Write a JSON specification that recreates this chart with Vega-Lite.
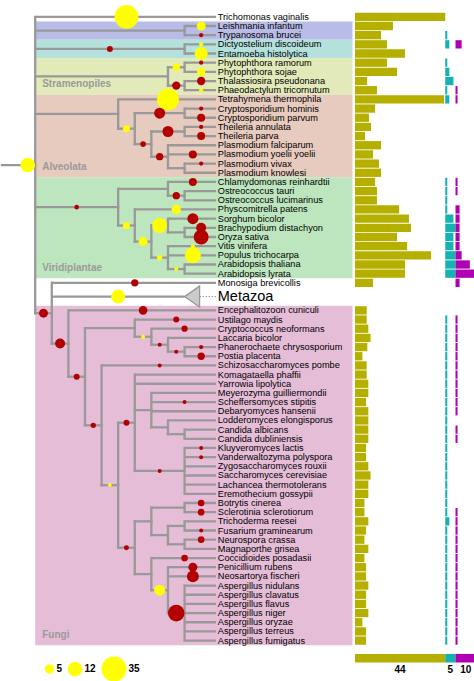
{
  "$schema": "https://vega.github.io/schema/vega-lite/v6.json",
  "width": 474,
  "height": 681,
  "padding": 0,
  "autosize": {"type": "fit", "contains": "padding"},
  "background": "white",
  "config": {"view": {"stroke": null}, "font": "Liberation Sans", "legend": {"symbolBaseFillColor": "#ffff00", "symbolBaseStrokeColor": "#ffff00"}},
  "datasets": {
    "bands": [
      {"clade": "Kinetoplastida", "lo": 0.5, "hi": 2.5},
      {"clade": "Amoebozoa", "lo": 2.5, "hi": 4.5},
      {"clade": "Stramenopiles", "lo": 4.5, "hi": 8.5},
      {"clade": "Alveolata", "lo": 8.5, "hi": 17.5},
      {"clade": "Viridiplantae", "lo": 17.5, "hi": 28.5},
      {"clade": "Fungi", "lo": 31.5, "hi": 68.5}
    ],
    "clades": [
      {"n": "root", "d": 2, "pd": 0, "r": 16.16, "lo": 0, "hi": 32.31},
      {"n": "Kin", "d": 11, "pd": 2, "r": 1.5, "lo": 1, "hi": 2},
      {"n": "Amo", "d": 11, "pd": 2, "r": 3.5, "lo": 3, "hi": 4},
      {"n": "Str", "d": 10, "pd": 2, "r": 6.5, "lo": 5.5, "hi": 7.5},
      {"n": "Phy", "d": 11, "pd": 10, "r": 5.5, "lo": 5, "hi": 6},
      {"n": "Dia", "d": 11, "pd": 10, "r": 7.5, "lo": 7, "hi": 8},
      {"n": "Alv", "d": 7, "pd": 2, "r": 10.59, "lo": 9, "hi": 12.19},
      {"n": "Api", "d": 8, "pd": 7, "r": 12.19, "lo": 10.5, "hi": 13.875},
      {"n": "Cry", "d": 11, "pd": 8, "r": 10.5, "lo": 10, "hi": 11},
      {"n": "Aco", "d": 9, "pd": 8, "r": 13.875, "lo": 12.5, "hi": 15.25},
      {"n": "The", "d": 11, "pd": 9, "r": 12.5, "lo": 12, "hi": 13},
      {"n": "Pla", "d": 10, "pd": 9, "r": 15.25, "lo": 14, "hi": 16.5},
      {"n": "PvPk", "d": 11, "pd": 10, "r": 16.5, "lo": 16, "hi": 17},
      {"n": "Vir", "d": 7, "pd": 2, "r": 20.75, "lo": 18.75, "hi": 22.75},
      {"n": "Chl", "d": 10, "pd": 7, "r": 18.75, "lo": 18, "hi": 19.5},
      {"n": "Ost", "d": 11, "pd": 10, "r": 19.5, "lo": 19, "hi": 20},
      {"n": "Emb", "d": 8, "pd": 7, "r": 22.75, "lo": 21, "hi": 24.5},
      {"n": "Spe", "d": 9, "pd": 8, "r": 24.5, "lo": 22.75, "hi": 26.25},
      {"n": "Poa", "d": 10, "pd": 9, "r": 22.75, "lo": 22, "hi": 23.5},
      {"n": "BO", "d": 11, "pd": 10, "r": 23.5, "lo": 23, "hi": 24},
      {"n": "Eud", "d": 10, "pd": 9, "r": 26.25, "lo": 25, "hi": 27.5},
      {"n": "Ara", "d": 11, "pd": 10, "r": 27.5, "lo": 27, "hi": 28},
      {"n": "Opi", "d": 3, "pd": 2, "r": 32.31, "lo": 29, "hi": 35.62},
      {"n": "Fun", "d": 4, "pd": 3, "r": 35.62, "lo": 32, "hi": 39.23},
      {"n": "Dik", "d": 5, "pd": 4, "r": 39.23, "lo": 33.94, "hi": 44.53},
      {"n": "Bas", "d": 8, "pd": 5, "r": 33.94, "lo": 33, "hi": 34.875},
      {"n": "Aga", "d": 9, "pd": 8, "r": 34.875, "lo": 34, "hi": 35.75},
      {"n": "Ag2", "d": 10, "pd": 9, "r": 35.75, "lo": 35, "hi": 36.5},
      {"n": "Pol", "d": 11, "pd": 10, "r": 36.5, "lo": 36, "hi": 37},
      {"n": "Asc", "d": 6, "pd": 5, "r": 44.53, "lo": 38, "hi": 51.06},
      {"n": "AsB", "d": 7, "pd": 6, "r": 51.06, "lo": 44.25, "hi": 57.875},
      {"n": "Sac", "d": 8, "pd": 7, "r": 44.25, "lo": 39, "hi": 49.5},
      {"n": "CTG", "d": 9, "pd": 8, "r": 42.875, "lo": 41, "hi": 44.75},
      {"n": "Lod", "d": 10, "pd": 9, "r": 44.75, "lo": 44, "hi": 45.5},
      {"n": "Can", "d": 11, "pd": 10, "r": 45.5, "lo": 45, "hi": 46},
      {"n": "Sce", "d": 11, "pd": 8, "r": 49.5, "lo": 47, "hi": 52},
      {"n": "Pez", "d": 8, "pd": 7, "r": 57.875, "lo": 55, "hi": 60.75},
      {"n": "Leo", "d": 9, "pd": 8, "r": 55, "lo": 53.5, "hi": 56.5},
      {"n": "BS", "d": 11, "pd": 9, "r": 53.5, "lo": 53, "hi": 54},
      {"n": "Sor", "d": 10, "pd": 9, "r": 56.5, "lo": 55.5, "hi": 57.5},
      {"n": "TF", "d": 11, "pd": 10, "r": 55.5, "lo": 55, "hi": 56},
      {"n": "NM", "d": 11, "pd": 10, "r": 57.5, "lo": 57, "hi": 58},
      {"n": "Eur", "d": 9, "pd": 8, "r": 60.75, "lo": 59, "hi": 62.5},
      {"n": "Eu2", "d": 10, "pd": 9, "r": 62.5, "lo": 60, "hi": 65},
      {"n": "Asp", "d": 11, "pd": 10, "r": 65, "lo": 62, "hi": 68}
    ],
    "taxa": [
      {"n": "Trichomonas vaginalis", "r": 0, "pd": 2, "d": 12.9, "b1": 44, "b2": 0, "b3": 0},
      {"n": "Leishmania infantum", "r": 1, "pd": 11, "d": 12.9, "b1": 18.5, "b2": 0, "b3": 0},
      {"n": "Trypanosoma brucei", "r": 2, "pd": 11, "d": 12.9, "b1": 12.7, "b2": 1, "b3": 0},
      {"n": "Dictyostelium discoideum", "r": 3, "pd": 11, "d": 12.9, "b1": 15.6, "b2": 2, "b3": 3},
      {"n": "Entamoeba histolytica", "r": 4, "pd": 11, "d": 12.9, "b1": 24.4, "b2": 0, "b3": 0},
      {"n": "Phytophthora ramorum", "r": 5, "pd": 11, "d": 12.9, "b1": 15.6, "b2": 1, "b3": 0},
      {"n": "Phytophthora sojae", "r": 6, "pd": 11, "d": 12.9, "b1": 20.5, "b2": 2, "b3": 0},
      {"n": "Thalassiosira pseudonana", "r": 7, "pd": 11, "d": 12.9, "b1": 5.9, "b2": 4, "b3": 0},
      {"n": "Phaeodactylum tricornutum", "r": 8, "pd": 11, "d": 12.9, "b1": 10.7, "b2": 1, "b3": 1},
      {"n": "Tetrahymena thermophila", "r": 9, "pd": 7, "d": 12.9, "b1": 43.4, "b2": 2, "b3": 1},
      {"n": "Cryptosporidium hominis", "r": 10, "pd": 11, "d": 12.9, "b1": 9.8, "b2": 0, "b3": 0},
      {"n": "Cryptosporidium parvum", "r": 11, "pd": 11, "d": 12.9, "b1": 6.8, "b2": 0, "b3": 0},
      {"n": "Theileria annulata", "r": 12, "pd": 11, "d": 12.9, "b1": 7.8, "b2": 0, "b3": 0},
      {"n": "Theileria parva", "r": 13, "pd": 11, "d": 12.9, "b1": 4.9, "b2": 0, "b3": 0},
      {"n": "Plasmodium falciparum", "r": 14, "pd": 10, "d": 12.9, "b1": 12.7, "b2": 0, "b3": 0},
      {"n": "Plasmodium yoelii yoelii", "r": 15, "pd": 10, "d": 12.9, "b1": 8.8, "b2": 0, "b3": 0},
      {"n": "Plasmodium vivax", "r": 16, "pd": 11, "d": 12.9, "b1": 11.7, "b2": 0, "b3": 0},
      {"n": "Plasmodium knowlesi", "r": 17, "pd": 11, "d": 12.9, "b1": 12.7, "b2": 0, "b3": 0},
      {"n": "Chlamydomonas reinhardtii", "r": 18, "pd": 10, "d": 12.9, "b1": 9.8, "b2": 1, "b3": 1},
      {"n": "Ostreococcus tauri", "r": 19, "pd": 11, "d": 12.9, "b1": 10.7, "b2": 1, "b3": 1},
      {"n": "Ostreococcus lucimarinus", "r": 20, "pd": 11, "d": 12.9, "b1": 10.7, "b2": 1, "b3": 0},
      {"n": "Physcomitrella patens", "r": 21, "pd": 8, "d": 12.9, "b1": 21.5, "b2": 1, "b3": 2},
      {"n": "Sorghum bicolor", "r": 22, "pd": 10, "d": 12.9, "b1": 26.3, "b2": 4, "b3": 2},
      {"n": "Brachypodium distachyon", "r": 23, "pd": 11, "d": 12.9, "b1": 27.3, "b2": 5, "b3": 2},
      {"n": "Oryza sativa", "r": 24, "pd": 11, "d": 12.9, "b1": 20.5, "b2": 4, "b3": 2},
      {"n": "Vitis vinifera", "r": 25, "pd": 10, "d": 12.9, "b1": 25.4, "b2": 4, "b3": 2},
      {"n": "Populus trichocarpa", "r": 26, "pd": 10, "d": 12.9, "b1": 37.1, "b2": 5, "b3": 3},
      {"n": "Arabidopsis thaliana", "r": 27, "pd": 11, "d": 12.9, "b1": 24.4, "b2": 5, "b3": 7},
      {"n": "Arabidopsis lyrata", "r": 28, "pd": 11, "d": 12.9, "b1": 24.4, "b2": 5, "b3": 10},
      {"n": "Monosiga brevicollis", "r": 29, "pd": 3, "d": 12.9, "b1": 8.8, "b2": 0, "b3": 2},
      {"n": "Metazoa", "r": 30.5, "pd": 3, "d": 11, "b1": 0, "b2": 0, "b3": 0},
      {"n": "Encephalitozoon cuniculi", "r": 32, "pd": 4, "d": 12.9, "b1": 5.7, "b2": 0, "b3": 0},
      {"n": "Ustilago maydis", "r": 33, "pd": 8, "d": 12.9, "b1": 5.7, "b2": 1, "b3": 1},
      {"n": "Cryptococcus neoformans", "r": 34, "pd": 9, "d": 12.9, "b1": 6.5, "b2": 1, "b3": 1},
      {"n": "Laccaria bicolor", "r": 35, "pd": 10, "d": 12.9, "b1": 7.6, "b2": 1, "b3": 1},
      {"n": "Phanerochaete chrysosporium", "r": 36, "pd": 11, "d": 12.9, "b1": 6.0, "b2": 1, "b3": 1},
      {"n": "Postia placenta", "r": 37, "pd": 11, "d": 12.9, "b1": 3.6, "b2": 1, "b3": 1},
      {"n": "Schizosaccharomyces pombe", "r": 38, "pd": 6, "d": 12.9, "b1": 5.7, "b2": 1, "b3": 1},
      {"n": "Komagataella phaffii", "r": 39, "pd": 8, "d": 12.9, "b1": 5.7, "b2": 1, "b3": 1},
      {"n": "Yarrowia lipolytica", "r": 40, "pd": 8, "d": 12.9, "b1": 6.5, "b2": 1, "b3": 1},
      {"n": "Meyerozyma guilliermondii", "r": 41, "pd": 9, "d": 12.9, "b1": 6.5, "b2": 1, "b3": 1},
      {"n": "Scheffersomyces stipitis", "r": 42, "pd": 9, "d": 12.9, "b1": 5.4, "b2": 1, "b3": 1},
      {"n": "Debaryomyces hansenii", "r": 43, "pd": 9, "d": 12.9, "b1": 6.5, "b2": 1, "b3": 1},
      {"n": "Lodderomyces elongisporus", "r": 44, "pd": 10, "d": 12.9, "b1": 6.5, "b2": 1, "b3": 0},
      {"n": "Candida albicans", "r": 45, "pd": 11, "d": 12.9, "b1": 6.5, "b2": 1, "b3": 1},
      {"n": "Candida dubliniensis", "r": 46, "pd": 11, "d": 12.9, "b1": 6.5, "b2": 1, "b3": 1},
      {"n": "Kluyveromyces lactis", "r": 47, "pd": 11, "d": 12.9, "b1": 5.4, "b2": 1, "b3": 0},
      {"n": "Vanderwaltozyma polyspora", "r": 48, "pd": 11, "d": 12.9, "b1": 5.4, "b2": 1, "b3": 0},
      {"n": "Zygosaccharomyces rouxii", "r": 49, "pd": 11, "d": 12.9, "b1": 6.5, "b2": 1, "b3": 0},
      {"n": "Saccharomyces cerevisiae", "r": 50, "pd": 11, "d": 12.9, "b1": 7.6, "b2": 1, "b3": 0},
      {"n": "Lachancea thermotolerans", "r": 51, "pd": 11, "d": 12.9, "b1": 6.5, "b2": 1, "b3": 0},
      {"n": "Eremothecium gossypii", "r": 52, "pd": 11, "d": 12.9, "b1": 6.5, "b2": 1, "b3": 0},
      {"n": "Botrytis cinerea", "r": 53, "pd": 11, "d": 12.9, "b1": 4.6, "b2": 1, "b3": 0},
      {"n": "Sclerotinia sclerotiorum", "r": 54, "pd": 11, "d": 12.9, "b1": 4.6, "b2": 1, "b3": 1},
      {"n": "Trichoderma reesei", "r": 55, "pd": 11, "d": 12.9, "b1": 6.5, "b2": 2, "b3": 1},
      {"n": "Fusarium graminearum", "r": 56, "pd": 11, "d": 12.9, "b1": 5.4, "b2": 1, "b3": 1},
      {"n": "Neurospora crassa", "r": 57, "pd": 11, "d": 12.9, "b1": 4.6, "b2": 1, "b3": 1},
      {"n": "Magnaporthe grisea", "r": 58, "pd": 11, "d": 12.9, "b1": 6.5, "b2": 1, "b3": 1},
      {"n": "Coccidioides posadasii", "r": 59, "pd": 9, "d": 12.9, "b1": 4.6, "b2": 1, "b3": 1},
      {"n": "Penicillium rubens", "r": 60, "pd": 10, "d": 12.9, "b1": 5.4, "b2": 1, "b3": 1},
      {"n": "Neosartorya fischeri", "r": 61, "pd": 10, "d": 12.9, "b1": 5.4, "b2": 1, "b3": 1},
      {"n": "Aspergillus nidulans", "r": 62, "pd": 11, "d": 12.9, "b1": 6.5, "b2": 1, "b3": 1},
      {"n": "Aspergillus clavatus", "r": 63, "pd": 11, "d": 12.9, "b1": 5.4, "b2": 1, "b3": 1},
      {"n": "Aspergillus flavus", "r": 64, "pd": 11, "d": 12.9, "b1": 5.4, "b2": 1, "b3": 1},
      {"n": "Aspergillus niger", "r": 65, "pd": 11, "d": 12.9, "b1": 6.5, "b2": 1, "b3": 1},
      {"n": "Aspergillus oryzae", "r": 66, "pd": 11, "d": 12.9, "b1": 3.6, "b2": 1, "b3": 1},
      {"n": "Aspergillus terreus", "r": 67, "pd": 11, "d": 12.9, "b1": 5.4, "b2": 1, "b3": 1},
      {"n": "Aspergillus fumigatus", "r": 68, "pd": 11, "d": 12.9, "b1": 5.4, "b2": 1, "b3": 1}
    ],
    "events": [
      {"d": 1.55, "r": 16.16, "v": 12, "t": "gain"},
      {"d": 7.5, "r": 0, "v": 32, "t": "gain"},
      {"d": 12, "r": 1, "v": 4.5, "t": "gain"},
      {"d": 12, "r": 2, "v": 1, "t": "loss"},
      {"d": 6.5, "r": 3.5, "v": 2, "t": "loss"},
      {"d": 12, "r": 3, "v": 1, "t": "gain"},
      {"d": 12, "r": 4, "v": 9.5, "t": "gain"},
      {"d": 10.5, "r": 5.5, "v": 3, "t": "gain"},
      {"d": 12, "r": 5, "v": 1, "t": "loss"},
      {"d": 12, "r": 6, "v": 3.9, "t": "gain"},
      {"d": 10.5, "r": 7.5, "v": 3.9, "t": "loss"},
      {"d": 12, "r": 7, "v": 3.9, "t": "loss"},
      {"d": 12, "r": 8, "v": 1, "t": "gain"},
      {"d": 10, "r": 9, "v": 27, "t": "gain"},
      {"d": 9.5, "r": 10.5, "v": 6.8, "t": "loss"},
      {"d": 12, "r": 10, "v": 1, "t": "loss"},
      {"d": 12, "r": 11, "v": 3.6, "t": "loss"},
      {"d": 7.5, "r": 12.19, "v": 2.75, "t": "gain"},
      {"d": 8.5, "r": 13.875, "v": 1.8, "t": "loss"},
      {"d": 10, "r": 12.5, "v": 6.8, "t": "loss"},
      {"d": 12, "r": 12, "v": 1, "t": "loss"},
      {"d": 12, "r": 13, "v": 3.6, "t": "loss"},
      {"d": 9.5, "r": 15.25, "v": 3, "t": "loss"},
      {"d": 11.5, "r": 15, "v": 3.6, "t": "loss"},
      {"d": 12, "r": 16, "v": 1, "t": "loss"},
      {"d": 4.5, "r": 20.75, "v": 1.2, "t": "loss"},
      {"d": 11.5, "r": 18, "v": 3.6, "t": "loss"},
      {"d": 10.5, "r": 19.5, "v": 3, "t": "loss"},
      {"d": 7.5, "r": 22.75, "v": 2.75, "t": "gain"},
      {"d": 10.5, "r": 21, "v": 4.9, "t": "gain"},
      {"d": 8.5, "r": 24.5, "v": 4.5, "t": "gain"},
      {"d": 9.5, "r": 22.75, "v": 12.6, "t": "gain"},
      {"d": 11.5, "r": 22, "v": 6.8, "t": "loss"},
      {"d": 12, "r": 23, "v": 5.6, "t": "loss"},
      {"d": 12, "r": 24, "v": 12.6, "t": "loss"},
      {"d": 9.5, "r": 26.25, "v": 1.6, "t": "gain"},
      {"d": 11.5, "r": 26, "v": 14.4, "t": "gain"},
      {"d": 11.5, "r": 25, "v": 0.9, "t": "gain"},
      {"d": 10.5, "r": 27.5, "v": 0.9, "t": "gain"},
      {"d": 2.5, "r": 32.31, "v": 4.5, "t": "loss"},
      {"d": 8, "r": 29, "v": 3, "t": "loss"},
      {"d": 7, "r": 30.5, "v": 11, "t": "gain"},
      {"d": 3.5, "r": 35.62, "v": 5.6, "t": "loss"},
      {"d": 8.5, "r": 32, "v": 4.2, "t": "loss"},
      {"d": 4.5, "r": 39.23, "v": 2, "t": "loss"},
      {"d": 5.5, "r": 44.53, "v": 1.6, "t": "loss"},
      {"d": 8.5, "r": 34.875, "v": 0.9, "t": "gain"},
      {"d": 10.5, "r": 33, "v": 2, "t": "loss"},
      {"d": 11, "r": 34, "v": 2.2, "t": "loss"},
      {"d": 9.5, "r": 35.75, "v": 0.9, "t": "loss"},
      {"d": 10.5, "r": 36.5, "v": 0.9, "t": "loss"},
      {"d": 12, "r": 36, "v": 1, "t": "loss"},
      {"d": 12, "r": 37, "v": 3, "t": "loss"},
      {"d": 6.5, "r": 51.06, "v": 0.75, "t": "gain"},
      {"d": 9.5, "r": 38, "v": 0.9, "t": "loss"},
      {"d": 7.5, "r": 44.25, "v": 2, "t": "loss"},
      {"d": 11, "r": 42, "v": 0.9, "t": "loss"},
      {"d": 9.5, "r": 49.5, "v": 0.9, "t": "loss"},
      {"d": 12, "r": 47, "v": 0.9, "t": "loss"},
      {"d": 12, "r": 48, "v": 0.9, "t": "loss"},
      {"d": 7.5, "r": 57.875, "v": 1.4, "t": "loss"},
      {"d": 12, "r": 53, "v": 2.5, "t": "loss"},
      {"d": 12, "r": 54, "v": 2.5, "t": "loss"},
      {"d": 12, "r": 56, "v": 0.9, "t": "loss"},
      {"d": 12, "r": 57, "v": 2.5, "t": "loss"},
      {"d": 11, "r": 59, "v": 2.5, "t": "loss"},
      {"d": 9.5, "r": 62.5, "v": 6.8, "t": "gain"},
      {"d": 11.5, "r": 60, "v": 4.5, "t": "loss"},
      {"d": 11.5, "r": 61, "v": 8, "t": "loss"},
      {"d": 10.5, "r": 65, "v": 15.6, "t": "loss"}
    ],
    "scalebar": [
      {"col": "bar1", "v": 44},
      {"col": "bar2", "v": 5},
      {"col": "bar3", "v": 10}
    ]
  },
  "resolve": {"scale": {"x": "independent", "color": "independent"}},
  "layer": [
    {
      "resolve": {"scale": {"color": "independent"}},
      "layer": [
        {
          "data": {"name": "bands"},
          "mark": {"type": "rect"},
          "encoding": {
            "x": {"datum": 2, "type": "quantitative", "scale": {"domain": [0, 28.44], "nice": false, "zero": false}, "axis": null},
            "x2": {"datum": 21.12},
            "y": {"field": "lo", "type": "quantitative", "scale": {"domain": [-1.289, 71.86], "reverse": true, "nice": false, "zero": false}, "axis": null},
            "y2": {"field": "hi"},
            "color": {"field": "clade", "type": "nominal", "legend": null,
              "scale": {"domain": ["Kinetoplastida", "Amoebozoa", "Stramenopiles", "Alveolata", "Viridiplantae", "Fungi"],
                        "range": ["#b8bce6", "#b4e1dc", "#e3eab9", "#e8cbbf", "#bee6be", "#e6bdd7"]}}
          }
        },
        {
          "data": {"name": "bands"},
          "transform": [{"filter": {"field": "clade", "oneOf": ["Stramenopiles", "Alveolata", "Viridiplantae", "Fungi"]}}],
          "mark": {"type": "text", "align": "left", "baseline": "alphabetic", "dx": 7, "dy": -7.5, "fontSize": 10, "fontWeight": "bold", "color": "#9a9a9a"},
          "encoding": {
            "x": {"datum": 2, "type": "quantitative", "scale": {"domain": [0, 28.44], "nice": false, "zero": false}, "axis": null},
            "y": {"field": "hi", "type": "quantitative", "scale": {"domain": [-1.289, 71.86], "reverse": true, "nice": false, "zero": false}, "axis": null},
            "text": {"field": "clade"}
          }
        },
        {
          "data": {"name": "clades"},
          "mark": {"type": "rule", "color": "#999999", "strokeWidth": 2.3, "strokeCap": "square"},
          "encoding": {
            "x": {"field": "d", "type": "quantitative", "scale": {"domain": [0, 28.44], "nice": false, "zero": false}, "axis": null},
            "y": {"field": "lo", "type": "quantitative", "scale": {"domain": [-1.289, 71.86], "reverse": true, "nice": false, "zero": false}, "axis": null},
            "y2": {"field": "hi"}
          }
        },
        {
          "data": {"name": "clades"},
          "mark": {"type": "rule", "color": "#999999", "strokeWidth": 2.3, "strokeCap": "square"},
          "encoding": {
            "x": {"field": "pd", "type": "quantitative", "scale": {"domain": [0, 28.44], "nice": false, "zero": false}, "axis": null},
            "x2": {"field": "d"},
            "y": {"field": "r", "type": "quantitative", "scale": {"domain": [-1.289, 71.86], "reverse": true, "nice": false, "zero": false}, "axis": null}
          }
        },
        {
          "data": {"name": "taxa"},
          "mark": {"type": "rule", "color": "#999999", "strokeWidth": 2.3, "strokeCap": "butt"},
          "encoding": {
            "x": {"field": "pd", "type": "quantitative", "scale": {"domain": [0, 28.44], "nice": false, "zero": false}, "axis": null},
            "x2": {"field": "d"},
            "y": {"field": "r", "type": "quantitative", "scale": {"domain": [-1.289, 71.86], "reverse": true, "nice": false, "zero": false}, "axis": null}
          }
        },
        {
          "data": {"name": "taxa"},
          "transform": [{"filter": {"field": "n", "equal": "Metazoa"}}],
          "mark": {"type": "rule", "color": "#999999", "strokeWidth": 1, "strokeDash": [1.5, 1.5]},
          "encoding": {
            "x": {"field": "d", "type": "quantitative", "scale": {"domain": [0, 28.44], "nice": false, "zero": false}, "axis": null},
            "x2": {"datum": 12.9},
            "y": {"field": "r", "type": "quantitative", "scale": {"domain": [-1.289, 71.86], "reverse": true, "nice": false, "zero": false}, "axis": null}
          }
        },
        {
          "data": {"name": "taxa"},
          "transform": [{"filter": {"field": "n", "equal": "Metazoa"}}],
          "mark": {"type": "point", "shape": "M0,0L1.43,-1L1.43,1Z", "size": 441, "filled": true, "fill": "#cbcbcb", "stroke": "#999999", "strokeWidth": 1.3, "opacity": 1},
          "encoding": {
            "x": {"field": "d", "type": "quantitative", "scale": {"domain": [0, 28.44], "nice": false, "zero": false}, "axis": null},
            "y": {"field": "r", "type": "quantitative", "scale": {"domain": [-1.289, 71.86], "reverse": true, "nice": false, "zero": false}, "axis": null}
          }
        },
        {
          "data": {"name": "events"},
          "mark": {"type": "circle", "opacity": 1},
          "encoding": {
            "x": {"field": "d", "type": "quantitative", "scale": {"domain": [0, 28.44], "nice": false, "zero": false}, "axis": null},
            "y": {"field": "r", "type": "quantitative", "scale": {"domain": [-1.289, 71.86], "reverse": true, "nice": false, "zero": false}, "axis": null},
            "size": {"field": "v", "type": "quantitative", "scale": {"domain": [0, 35], "range": [0, 623], "zero": true},
              "legend": {"orient": "none", "legendX": 42.5, "legendY": 656.5, "direction": "horizontal", "title": null, "values": [5, 12, 35],
                "symbolType": "circle", "symbolFillColor": "#ffff00", "symbolStrokeColor": "#ffff00", "symbolStrokeWidth": 0, "symbolOpacity": 1,
                "labelFontSize": 10, "labelFontWeight": "bold", "labelColor": "black", "labelOffset": 2, "columnPadding": 5, "padding": 0}},
            "color": {"field": "t", "type": "nominal", "legend": null, "scale": {"domain": ["gain", "loss"], "range": ["#ffff00", "#b30000"]}}
          }
        },
        {
          "data": {"name": "taxa"},
          "transform": [{"filter": "datum.n != 'Metazoa'"}],
          "mark": {"type": "text", "align": "left", "baseline": "middle", "fontSize": 9.2, "color": "black"},
          "encoding": {
            "x": {"datum": 13, "type": "quantitative", "scale": {"domain": [0, 28.44], "nice": false, "zero": false}, "axis": null},
            "y": {"field": "r", "type": "quantitative", "scale": {"domain": [-1.289, 71.86], "reverse": true, "nice": false, "zero": false}, "axis": null},
            "text": {"field": "n"}
          }
        },
        {
          "data": {"name": "taxa"},
          "transform": [{"filter": {"field": "n", "equal": "Metazoa"}}],
          "mark": {"type": "text", "align": "left", "baseline": "middle", "fontSize": 14.5, "color": "black"},
          "encoding": {
            "x": {"datum": 13, "type": "quantitative", "scale": {"domain": [0, 28.44], "nice": false, "zero": false}, "axis": null},
            "y": {"field": "r", "type": "quantitative", "scale": {"domain": [-1.289, 71.86], "reverse": true, "nice": false, "zero": false}, "axis": null},
            "text": {"field": "n"}
          }
        }
      ]
    },
    {
      "data": {"name": "taxa"},
      "transform": [{"filter": "datum.b1 > 0"}],
      "mark": {"type": "bar", "orient": "horizontal", "size": 8.3, "color": "#b5b000"},
      "encoding": {
        "x": {"field": "b1", "type": "quantitative", "scale": {"domain": [0, 44], "range": [353, 443.24], "nice": false, "zero": true}, "axis": null},
        "y": {"field": "r", "type": "quantitative", "scale": {"domain": [-1.289, 71.86], "reverse": true, "nice": false, "zero": false}, "axis": null}
      }
    },
    {
      "data": {"name": "taxa"},
      "transform": [{"filter": "datum.b2 > 0"}],
      "mark": {"type": "bar", "orient": "horizontal", "size": 8.3, "color": "#14b2b2"},
      "encoding": {
        "x": {"field": "b2", "type": "quantitative", "scale": {"domain": [0, 5], "range": [443.24, 453.5], "nice": false, "zero": true}, "axis": null},
        "y": {"field": "r", "type": "quantitative", "scale": {"domain": [-1.289, 71.86], "reverse": true, "nice": false, "zero": false}, "axis": null}
      }
    },
    {
      "data": {"name": "taxa"},
      "transform": [{"filter": "datum.b3 > 0"}],
      "mark": {"type": "bar", "orient": "horizontal", "size": 8.3, "color": "#b000b3"},
      "encoding": {
        "x": {"field": "b3", "type": "quantitative", "scale": {"domain": [0, 10], "range": [453.5, 474], "nice": false, "zero": true}, "axis": null},
        "y": {"field": "r", "type": "quantitative", "scale": {"domain": [-1.289, 71.86], "reverse": true, "nice": false, "zero": false}, "axis": null}
      }
    },
    {
      "data": {"name": "scalebar"},
      "layer": [
        {
          "mark": {"type": "bar", "orient": "horizontal", "size": 8.6},
          "encoding": {
            "x": {"field": "v", "type": "quantitative", "stack": "zero", "scale": {"domain": [0, 59], "range": [353, 474], "nice": false}, "axis": null},
            "y": {"datum": 69.92, "type": "quantitative", "scale": {"domain": [-1.289, 71.86], "reverse": true, "nice": false, "zero": false}, "axis": null},
            "color": {"field": "col", "type": "nominal", "legend": null, "scale": {"domain": ["bar1", "bar2", "bar3"], "range": ["#b5b000", "#14b2b2", "#b000b3"]}},
            "order": {"field": "col"}
          }
        },
        {
          "mark": {"type": "text", "align": "center", "baseline": "middle", "fontSize": 10, "fontWeight": "bold", "color": "black"},
          "encoding": {
            "x": {"field": "v", "type": "quantitative", "stack": "zero", "bandPosition": 0.5, "scale": {"domain": [0, 59], "range": [353, 474], "nice": false}, "axis": null},
            "y": {"datum": 71.21, "type": "quantitative", "scale": {"domain": [-1.289, 71.86], "reverse": true, "nice": false, "zero": false}, "axis": null},
            "detail": {"field": "col"},
            "order": {"field": "col"},
            "text": {"field": "v"}
          }
        }
      ]
    }
  ]
}
